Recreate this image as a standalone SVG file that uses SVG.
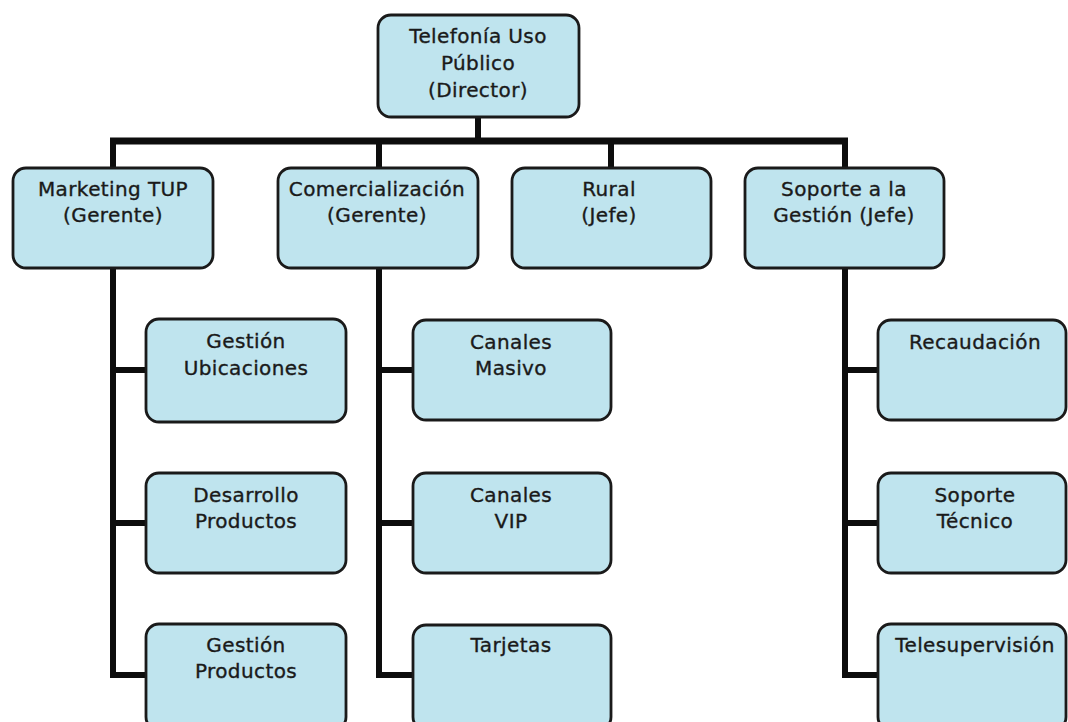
<svg xmlns="http://www.w3.org/2000/svg" width="1068" height="722" viewBox="0 0 1068 722">
  <style>
    .box { fill: #bfe4ee; stroke: #1a1a1a; stroke-width: 2.8; }
    .lbl { font-family: "DejaVu Sans", "Liberation Sans", sans-serif; font-size: 20px; letter-spacing: 0.4px; fill: #1a1a1a; stroke: #1a1a1a; stroke-width: 0.35px; text-anchor: middle; }
    .wire { stroke: #0d0d0d; fill: none; stroke-linecap: butt; }
    .main { stroke-width: 7; }
    .link { stroke-width: 6; }
  </style>
  <rect width="1068" height="722" fill="#ffffff"/>

  <!-- connectors -->
  <g id="connectors">
    <line class="wire link" x1="478" y1="116" x2="478" y2="141"/>
    <line class="wire main" x1="110" y1="141" x2="848" y2="141"/>
    <line class="wire link" x1="113" y1="141" x2="113" y2="169"/>
    <line class="wire link" x1="379" y1="141" x2="379" y2="169"/>
    <line class="wire link" x1="611" y1="141" x2="611" y2="169"/>
    <line class="wire link" x1="845" y1="141" x2="845" y2="169"/>

    <!-- Marketing TUP branch -->
    <line class="wire link" x1="113" y1="267" x2="113" y2="678"/>
    <line class="wire link" x1="110" y1="370" x2="146" y2="370"/>
    <line class="wire link" x1="110" y1="523" x2="146" y2="523"/>
    <line class="wire link" x1="110" y1="675" x2="146" y2="675"/>

    <!-- Comercialización branch -->
    <line class="wire link" x1="379" y1="267" x2="379" y2="678"/>
    <line class="wire link" x1="376" y1="370" x2="413" y2="370"/>
    <line class="wire link" x1="376" y1="523" x2="413" y2="523"/>
    <line class="wire link" x1="376" y1="675" x2="413" y2="675"/>

    <!-- Soporte a la Gestión branch -->
    <line class="wire link" x1="845" y1="267" x2="845" y2="678"/>
    <line class="wire link" x1="842" y1="370" x2="878" y2="370"/>
    <line class="wire link" x1="842" y1="523" x2="878" y2="523"/>
    <line class="wire link" x1="842" y1="675" x2="878" y2="675"/>
  </g>

  <!-- top level -->
  <g id="director">
    <rect class="box" x="378" y="15" width="201" height="102" rx="13"/>
    <text class="lbl" x="478" y="43">Telefonía Uso</text>
    <text class="lbl" x="478" y="70">Público</text>
    <text class="lbl" x="478" y="97">(Director)</text>
  </g>

  <!-- second level -->
  <g id="marketing">
    <rect class="box" x="13" y="168" width="200" height="100" rx="13"/>
    <text class="lbl" x="113" y="196">Marketing TUP</text>
    <text class="lbl" x="113" y="222">(Gerente)</text>
  </g>
  <g id="comercializacion">
    <rect class="box" x="278" y="168" width="200" height="100" rx="13"/>
    <text class="lbl" x="377" y="196">Comercialización</text>
    <text class="lbl" x="377" y="222">(Gerente)</text>
  </g>
  <g id="rural">
    <rect class="box" x="512" y="168" width="199" height="100" rx="13"/>
    <text class="lbl" x="609" y="196">Rural</text>
    <text class="lbl" x="609" y="222">(Jefe)</text>
  </g>
  <g id="soporte-gestion">
    <rect class="box" x="745" y="168" width="199" height="100" rx="13"/>
    <text class="lbl" x="844" y="196">Soporte a la</text>
    <text class="lbl" x="844" y="222">Gestión (Jefe)</text>
  </g>

  <!-- third level: Marketing TUP -->
  <g id="gestion-ubicaciones">
    <rect class="box" x="146" y="319" width="200" height="103" rx="13"/>
    <text class="lbl" x="246" y="348">Gestión</text>
    <text class="lbl" x="246" y="375">Ubicaciones</text>
  </g>
  <g id="desarrollo-productos">
    <rect class="box" x="146" y="473" width="200" height="100" rx="13"/>
    <text class="lbl" x="246" y="502">Desarrollo</text>
    <text class="lbl" x="246" y="528">Productos</text>
  </g>
  <g id="gestion-productos">
    <rect class="box" x="146" y="624" width="200" height="106" rx="13"/>
    <text class="lbl" x="246" y="652">Gestión</text>
    <text class="lbl" x="246" y="678">Productos</text>
  </g>

  <!-- third level: Comercialización -->
  <g id="canales-masivo">
    <rect class="box" x="413" y="320" width="198" height="100" rx="13"/>
    <text class="lbl" x="511" y="349">Canales</text>
    <text class="lbl" x="511" y="375">Masivo</text>
  </g>
  <g id="canales-vip">
    <rect class="box" x="413" y="473" width="198" height="100" rx="13"/>
    <text class="lbl" x="511" y="502">Canales</text>
    <text class="lbl" x="511" y="528">VIP</text>
  </g>
  <g id="tarjetas">
    <rect class="box" x="413" y="625" width="198" height="105" rx="13"/>
    <text class="lbl" x="511" y="652">Tarjetas</text>
  </g>

  <!-- third level: Soporte a la Gestión -->
  <g id="recaudacion">
    <rect class="box" x="878" y="320" width="188" height="100" rx="13"/>
    <text class="lbl" x="975" y="349">Recaudación</text>
  </g>
  <g id="soporte-tecnico">
    <rect class="box" x="878" y="473" width="188" height="100" rx="13"/>
    <text class="lbl" x="975" y="502">Soporte</text>
    <text class="lbl" x="975" y="528">Técnico</text>
  </g>
  <g id="telesupervision">
    <rect class="box" x="878" y="624" width="188" height="106" rx="13"/>
    <text class="lbl" x="975" y="652">Telesupervisión</text>
  </g>
</svg>
